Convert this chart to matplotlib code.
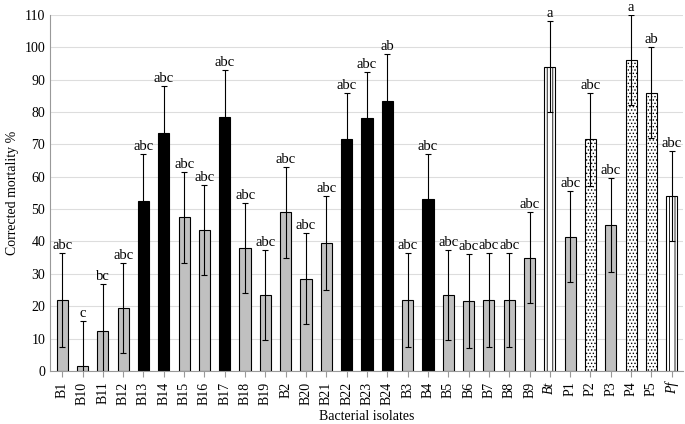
import numpy as np
import matplotlib.pyplot as plt

plt.rcParams['font.family'] = 'Liberation Serif'
plt.rcParams['hatch.linewidth'] = 0.6

isolates = ['B1', 'B10', 'B11', 'B12', 'B13', 'B14', 'B15', 'B16', 'B17', 'B18', 'B19', 'B2',
            'B20', 'B21', 'B22', 'B23', 'B24', 'B3', 'B4', 'B5', 'B6', 'B7', 'B8', 'B9',
            'Bt', 'P1', 'P2', 'P3', 'P4', 'P5', 'Pf']
mortality = [22, 1.5, 12.5, 19.5, 52.5, 73.5, 47.5, 43.5, 78.5, 38, 23.5, 49,
             28.5, 39.5, 71.5, 78, 83.5, 22, 53, 23.5, 21.5, 22, 22, 35,
             94, 41.5, 71.5, 45, 96, 86, 54]
errors = [14.5, 14, 14.5, 14, 14.5, 14.5, 14, 14, 14.5, 14, 14, 14,
          14, 14.5, 14.5, 14.5, 14.5, 14.5, 14, 14, 14.5, 14.5, 14.5, 14,
          14, 14, 14.5, 14.5, 14, 14, 14]
letters = ['abc', 'c', 'bc', 'abc', 'abc', 'abc', 'abc', 'abc', 'abc', 'abc', 'abc', 'abc',
           'abc', 'abc', 'abc', 'abc', 'ab', 'abc', 'abc', 'abc', 'abc', 'abc', 'abc', 'abc',
           'a', 'abc', 'abc', 'abc', 'a', 'ab', 'abc']
black = {'B13', 'B14', 'B17', 'B22', 'B23', 'B24', 'B4'}
dotted = {'P2', 'P4', 'P5'}
striped = {'Bt', 'Pf'}

fig, ax = plt.subplots(figsize=(6.85, 4.24), dpi=100)
fig.subplots_adjust(left=0.073, right=0.997, top=0.965, bottom=0.125)

x = np.arange(len(isolates))
for i, name in enumerate(isolates):
    face, hatch = '#c0c0c0', None
    if name in black:
        face = 'black'
    elif name in dotted:
        face, hatch = 'white', '.....'
    elif name in striped:
        face, hatch = 'white', '|||'
    ax.bar(x[i], mortality[i], width=0.55, color=face, edgecolor='black', linewidth=0.8,
           hatch=hatch, zorder=2)
    ax.errorbar(x[i], mortality[i], yerr=errors[i], fmt='none', ecolor='black',
                elinewidth=0.8, capsize=2.5, capthick=0.8, zorder=3)
    ax.text(x[i], mortality[i] + errors[i] + 0.3, letters[i], ha='center', va='bottom',
            fontsize=10.5, clip_on=False)

ax.set_xticks(x)
ax.set_xticklabels(isolates, rotation=90, fontsize=10)
for lbl in ax.get_xticklabels():
    if lbl.get_text() in striped:
        lbl.set_style('italic')
ax.set_xlim(-0.6, len(isolates) - 0.45)
ax.set_ylim(0, 110)
ax.set_yticks(range(0, 111, 10))
ax.tick_params(axis='y', length=0, labelsize=10)
ax.tick_params(axis='x', length=4, color='#999999')
ax.yaxis.grid(True, color='#dddddd', linewidth=0.8, zorder=0)
ax.set_axisbelow(True)
for s in ['top', 'right']:
    ax.spines[s].set_visible(False)
ax.spines['left'].set_color('#999999')
ax.spines['bottom'].set_color('#999999')
ax.set_ylabel('Corrected mortality %', fontsize=10)
ax.set_xlabel('Bacterial isolates', fontsize=10)

fig.savefig('out.png', dpi=100)
